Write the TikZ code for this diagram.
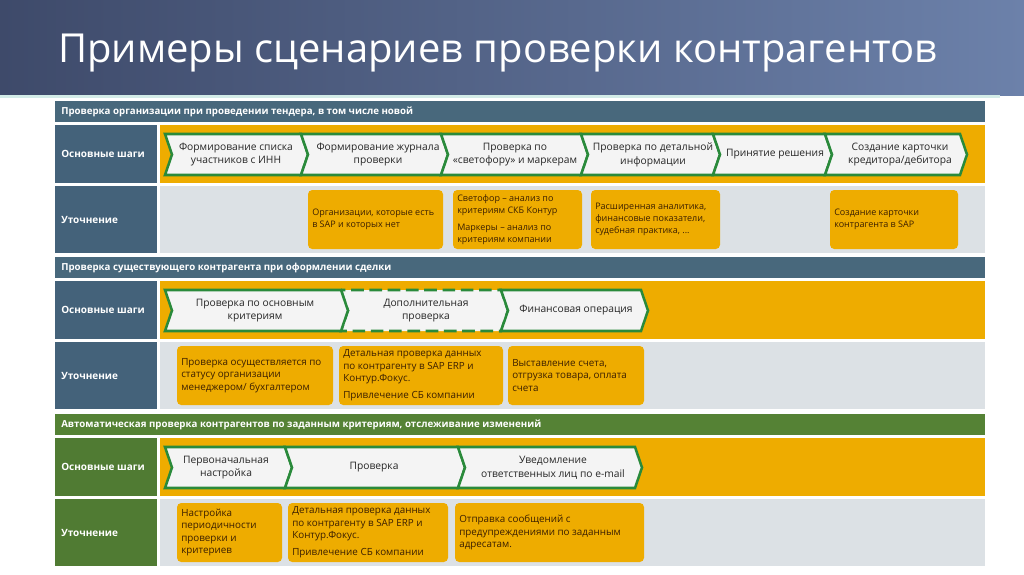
\documentclass[tikz,border=0pt]{standalone}
\usepackage{fontspec}
\setmainfont{Open Sans}
\usetikzlibrary{positioning}

\definecolor{hdrdark}{HTML}{3E4A6A}
\definecolor{hdrlight}{HTML}{6C81AA}
\definecolor{hdrline}{HTML}{D3ECE8}
\definecolor{slate}{HTML}{48687C}
\definecolor{slatecell}{HTML}{44627A}
\definecolor{leaf}{HTML}{558235}
\definecolor{leafcell}{HTML}{507B33}
\definecolor{amber}{HTML}{EEAC00}
\definecolor{mist}{HTML}{DCE1E5}
\definecolor{chgreen}{HTML}{2A8A3B}
\definecolor{chfill}{HTML}{F4F4F4}
\definecolor{notetxt}{HTML}{3B1F00}

% chevron: [style] left edge, tip, top, bottom
\newcommand{\chev}[5][]{\draw[chev,#1] (#2,#4) -- ({#2+7},{0.5*(#4+#5)}) -- (#2,#5) -- ({#3-7},#5) -- (#3,{0.5*(#4+#5)}) -- ({#3-7},#4) -- cycle;}

\begin{document}
\begin{tikzpicture}[x=0.025cm,y=-0.025cm]
	\tikzstyle{chev}=[draw=chgreen, line width=1.8pt, fill=chfill]
	\tikzstyle{chevtext}=[align=center, inner sep=0pt, text=black!85, font=\fontsize{7.3}{9.8}\selectfont]
	\tikzstyle{note}=[fill=amber, rounded corners=3pt]
	\tikzstyle{notetext}=[anchor=west, align=left, inner sep=0pt, text=notetxt, font=\fontsize{6.4}{8.6}\selectfont]
	\tikzstyle{notetextb}=[notetext, font=\fontsize{7}{8.9}\selectfont]
	\tikzstyle{bartext}=[anchor=west, inner sep=0pt, text=white, font=\bfseries\fontsize{6.9}{9}\selectfont]
	\tikzstyle{celltext}=[anchor=west, inner sep=0pt, text=white, font=\bfseries\fontsize{7.1}{9}\selectfont]
	\useasboundingbox (0,0) rectangle (1024,574);
	\fill[white] (0,0) rectangle (1024,574);
	% title band
	\shade[left color=hdrdark, right color=hdrlight] (0,0) rectangle (1024,95);
	\fill[hdrline] (0,95) rectangle (1000,98);
	\node[anchor=base west, inner sep=0pt, text=white, font=\fontsize{28.4}{34}\selectfont] (title) at (58,62) {Примеры сценариев проверки контрагентов};

	% section 1
	\fill[slate] (55,101) rectangle (985,122);
	\node[bartext] (bar1) at (61,111.5) {Проверка организации при проведении тендера, в том числе новой};
	\fill[slatecell] (55,125) rectangle (157,183);
	\fill[amber] (160,125) rectangle (985,183);
	\fill[slatecell] (55,186) rectangle (157,253);
	\fill[mist] (160,186) rectangle (985,253);
	\node[celltext] (steps1) at (61,154) {Основные шаги};
	\node[celltext] (spec1) at (61,219.5) {Уточнение};
	\chev{165}{308}{134}{175}
	\chev{301}{448}{134}{175}
	\chev{441}{588}{134}{175}
	\chev{581}{720}{134}{175}
	\chev{713}{832}{134}{175}
	\chev{825}{967}{134}{175}
	\node[chevtext] (s1c1) at (236,154.5) {Формирование списка\\участников с ИНН};
	\node[chevtext] (s1c2) at (378,154.5) {Формирование журнала\\проверки};
	\node[chevtext] (s1c3) at (515,154.5) {Проверка по\\«светофору» и маркерам};
	\node[chevtext] (s1c4) at (653,154.5) {Проверка по детальной\\информации};
	\node[chevtext] (s1c5) at (775,154.5) {Принятие решения};
	\node[chevtext] (s1c6) at (900,154.5) {Создание карточки\\кредитора/дебитора};
	\fill[note] (308,190) rectangle (443,249);
	\fill[note] (453,190) rectangle (582,249);
	\fill[note] (591,190) rectangle (720,249);
	\fill[note] (830,190) rectangle (958,249);
	\node[notetext] (s1n1) at (312,219.5) {Организации, которые есть\\в SAP и которых нет};
	\node[notetext] (s1n2) at (457,219.5) {Светофор – анализ по\\критериям СКБ Контур\\[3pt]Маркеры – анализ по\\критериям компании};
	\node[notetext] (s1n3) at (595,219.5) {Расширенная аналитика,\\финансовые показатели,\\судебная практика, ...};
	\node[notetext] (s1n4) at (834,219.5) {Создание карточки\\контрагента в SAP};

	% section 2
	\fill[slate] (55,257) rectangle (985,278);
	\node[bartext] (bar2) at (61,267.5) {Проверка существующего контрагента при оформлении сделки};
	\fill[slatecell] (55,281) rectangle (157,339);
	\fill[amber] (160,281) rectangle (985,339);
	\fill[slatecell] (55,342) rectangle (157,409);
	\fill[mist] (160,342) rectangle (985,409);
	\node[celltext] (steps2) at (61,310) {Основные шаги};
	\node[celltext] (spec2) at (61,375.5) {Уточнение};
	\chev[dash pattern=on 9pt off 4pt]{341}{508}{290}{331}
	\chev{165}{348}{290}{331}
	\chev{501}{648}{290}{331}
	\node[chevtext] (s2c1) at (255,310.5) {Проверка по основным\\критериям};
	\node[chevtext] (s2c2) at (426,310.5) {Дополнительная\\проверка};
	\node[chevtext] (s2c3) at (576,310.5) {Финансовая операция};
	\fill[note] (177,346) rectangle (333,405);
	\fill[note] (339,346) rectangle (503,405);
	\fill[note] (508,346) rectangle (644,405);
	\node[notetextb] (s2n1) at (181,375.5) {Проверка осуществляется по\\статусу организации\\менеджером/ бухгалтером};
	\node[notetextb] (s2n2) at (343,375.5) {Детальная проверка данных\\по контрагенту в SAP ERP и\\Контур.Фокус.\\[3pt]Привлечение СБ компании};
	\node[notetextb] (s2n3) at (512,375.5) {Выставление счета,\\отгрузка товара, оплата\\счета};

	% section 3
	\fill[leaf] (55,414) rectangle (985,435);
	\node[bartext] (bar3) at (61,424.5) {Автоматическая проверка контрагентов по заданным критериям, отслеживание изменений};
	\fill[leafcell] (55,438) rectangle (157,496);
	\fill[amber] (160,438) rectangle (985,496);
	\fill[leafcell] (55,499) rectangle (157,566);
	\fill[mist] (160,499) rectangle (985,566);
	\node[celltext] (steps3) at (61,467) {Основные шаги};
	\node[celltext] (spec3) at (61,532.5) {Уточнение};
	\chev{165}{292}{447}{488}
	\chev{285}{465}{447}{488}
	\chev{458}{642}{447}{488}
	\node[chevtext] (s3c1) at (226,467.5) {Первоначальная\\настройка};
	\node[chevtext] (s3c2) at (374,467.5) {Проверка};
	\node[chevtext] (s3c3) at (553,467.5) {Уведомление\\ответственных лиц по e-mail};
	\fill[note] (177,503) rectangle (282,562);
	\fill[note] (288,503) rectangle (448,562);
	\fill[note] (455,503) rectangle (644,562);
	\node[notetextb] (s3n1) at (181,532.5) {Настройка\\периодичности\\проверки и\\критериев};
	\node[notetextb] (s3n2) at (292,532.5) {Детальная проверка данных\\по контрагенту в SAP ERP и\\Контур.Фокус.\\[3pt]Привлечение СБ компании};
	\node[notetextb] (s3n3) at (459,532.5) {Отправка сообщений с\\предупреждениями по заданным\\адресатам.};
\end{tikzpicture}
\end{document}
